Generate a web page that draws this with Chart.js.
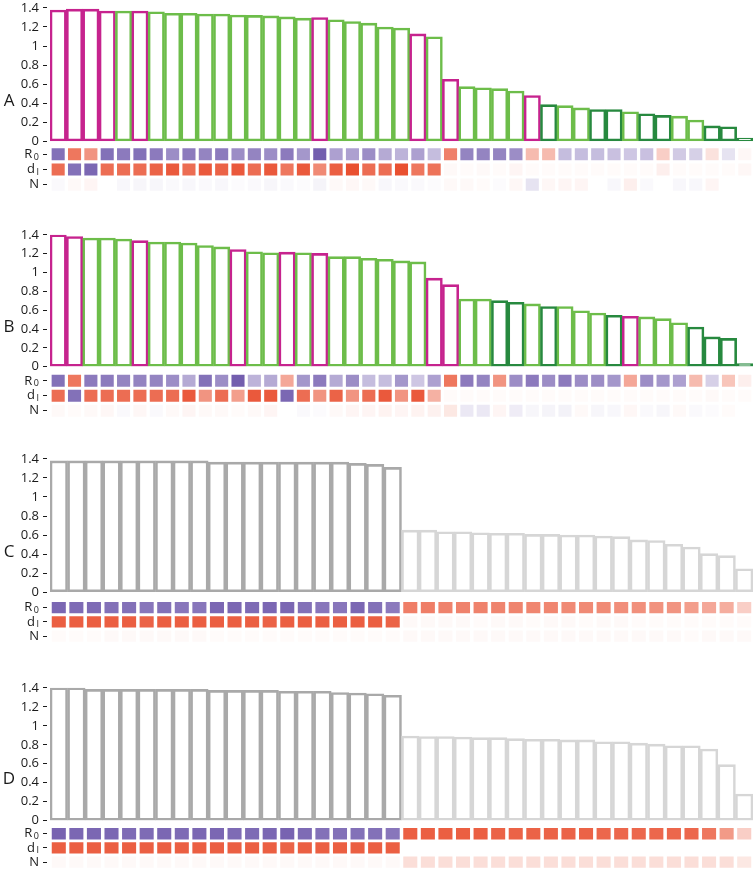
<!DOCTYPE html>
<html>
<head>
<meta charset="utf-8">
<title>Panels A-D</title>
<script src="https://cdn.jsdelivr.net/npm/chart.js@4.4.1/dist/chart.umd.min.js"></script>
<style>
    html, body { margin: 0; padding: 0; background: #fff; }
    #wrap { position: relative; width: 756px; height: 872px; overflow: hidden; }
    #wrap canvas { position: absolute; left: 0; }
</style>
</head>
<body>
<div id="wrap">
    <canvas id="panel-a"></canvas>
    <canvas id="panel-b"></canvas>
    <canvas id="panel-c"></canvas>
    <canvas id="panel-d"></canvas>
</div>
<script>

// Data

var yTicks = [0, 0.2, 0.4, 0.6, 0.8, 1, 1.2, 1.4];
var rowLabels = [['R', '0'], ['d', 'I'], ['N', '']];

// bar groups: m = magenta, g = light green, d = dark green, k = dark grey, l = light grey
var groupsA = 'mmmmgmggggggggggmgggggmgmggggmdggddgddggddd';
var groupsB = 'mmgggmgggggmggmgmggggggmmggddgdgggdmgggdddd';
var groupsC = 'kkkkkkkkkkkkkkkkkkkkllllllllllllllllllll';
var groupsD = 'kkkkkkkkkkkkkkkkkkkkllllllllllllllllllll';

var valuesA = [1.376, 1.386, 1.386, 1.366, 1.366, 1.366, 1.359, 1.342, 1.342, 1.335,
    1.335, 1.325, 1.320, 1.315, 1.305, 1.292, 1.298, 1.274, 1.257, 1.239,
    1.198, 1.188, 1.127, 1.096, 0.652, 0.574, 0.563, 0.553, 0.529, 0.481,
    0.386, 0.376, 0.352, 0.335, 0.335, 0.311, 0.291, 0.273, 0.266, 0.225,
    0.164, 0.154, 0.035];
var valuesB = [1.400, 1.382, 1.365, 1.365, 1.355, 1.338, 1.323, 1.323, 1.313, 1.286,
    1.272, 1.244, 1.220, 1.209, 1.216, 1.209, 1.203, 1.168, 1.168, 1.151,
    1.141, 1.123, 1.113, 0.940, 0.871, 0.719, 0.719, 0.701, 0.684, 0.667,
    0.639, 0.639, 0.594, 0.570, 0.546, 0.535, 0.529, 0.511, 0.467, 0.421,
    0.317, 0.301, 0.033];
var valuesC = [1.378, 1.378, 1.378, 1.378, 1.378, 1.378, 1.378, 1.378, 1.378, 1.365,
    1.365, 1.365, 1.365, 1.365, 1.365, 1.365, 1.365, 1.352, 1.341, 1.310,
    0.652, 0.652, 0.634, 0.634, 0.624, 0.618, 0.618, 0.607, 0.607, 0.600,
    0.600, 0.590, 0.583, 0.549, 0.542, 0.504, 0.474, 0.405, 0.384, 0.247];
var valuesD = [1.400, 1.400, 1.383, 1.383, 1.383, 1.383, 1.383, 1.383, 1.383, 1.373,
    1.373, 1.373, 1.373, 1.363, 1.363, 1.363, 1.350, 1.345, 1.337, 1.322,
    0.892, 0.887, 0.887, 0.882, 0.875, 0.875, 0.865, 0.858, 0.858, 0.851,
    0.851, 0.831, 0.831, 0.817, 0.807, 0.789, 0.789, 0.755, 0.591, 0.282];

// heat rows, -1 (orange) .. +1 (purple)
var r0A = [0.75, -0.7, -0.55, 0.75, 0.7, 0.75, 0.7, 0.6, 0.7, 0.65,
    0.7, 0.6, 0.65, 0.6, 0.7, 0.55, 0.85, 0.5, 0.5, 0.6,
    0.45, 0.4, 0.5, 0.35, -0.65, 0.65, 0.65, 0.65, 0.6, -0.35,
    -0.35, 0.35, 0.35, 0.35, 0.33, 0.3, 0.33, -0.25, 0.28, 0.25,
    -0.15, 0.15, -0.04];
var dIA = [-0.75, 0.75, 0.8, -0.75, -0.75, -0.75, -0.8, -0.85, -0.75, -0.85,
    -0.8, -0.85, -0.75, -0.85, -0.7, -0.85, -0.6, -0.82, -0.9, -0.75,
    -0.75, -0.9, -0.7, -0.72, -0.03, -0.02, -0.03, -0.02, -0.05, -0.02,
    -0.02, -0.02, -0.02, -0.02, -0.02, -0.02, -0.02, -0.08, -0.02, -0.02,
    -0.02, -0.02, -0.04];
var nA = [0.03, -0.03, -0.05, 0, 0.04, 0.05, 0.05, 0.03, 0.04, 0.03,
    0.04, 0.02, 0.03, 0.05, 0.03, 0.02, 0.06, -0.03, -0.04, -0.03,
    0.04, 0.03, 0.03, 0.02, -0.03, -0.03, -0.02, 0.02, -0.04, 0.15,
    -0.04, -0.05, -0.05, 0, 0.04, -0.08, 0.03, 0, 0.04, 0.04,
    -0.05, 0, 0];

var r0B = [0.75, -0.7, 0.7, 0.7, 0.65, 0.65, 0.65, 0.6, 0.45, 0.75,
    0.6, 0.85, 0.4, 0.45, -0.45, 0.55, 0.7, 0.45, 0.6, 0.35,
    0.35, 0.55, 0.3, 0.5, -0.7, 0.7, 0.65, -0.55, 0.6, 0.7,
    0.6, 0.7, 0.6, 0.6, 0.55, -0.45, 0.6, 0.55, 0.5, -0.35,
    0.25, -0.3, -0.08];
var dIB = [-0.75, 0.75, -0.75, -0.75, -0.75, -0.75, -0.75, -0.75, -0.85, -0.55,
    -0.75, -0.5, -0.85, -0.85, 0.8, -0.75, -0.55, -0.8, -0.55, -0.75,
    -0.85, -0.55, -0.85, -0.4, -0.02, -0.02, -0.02, -0.02, -0.02, -0.02,
    -0.02, -0.02, -0.02, -0.02, -0.02, -0.02, -0.02, -0.02, -0.02, -0.02,
    -0.03, -0.02, -0.02];
var nB = [-0.03, -0.02, -0.03, -0.04, 0.03, -0.04, 0.03, -0.03, -0.05, -0.03,
    -0.03, -0.02, -0.03, -0.05, 0, 0.03, 0.02, -0.03, -0.05, -0.05,
    -0.06, -0.05, -0.06, -0.07, -0.12, 0.12, 0.12, -0.05, 0.1, 0.05,
    0.06, 0.07, -0.03, 0.05, 0.04, -0.04, 0.03, 0.05, -0.03, 0.03,
    0.02, -0.02, 0];

var r0C = [0.8, 0.78, 0.78, 0.75, 0.75, 0.72, 0.75, 0.72, 0.72, 0.8,
    0.8, 0.78, 0.8, 0.8, 0.75, 0.72, 0.72, 0.8, 0.75, 0.7,
    -0.66, -0.66, -0.64, -0.64, -0.64, -0.63, -0.63, -0.62, -0.62, -0.6,
    -0.6, -0.6, -0.58, -0.57, -0.56, -0.55, -0.5, -0.45, -0.42, -0.25];
var dIC = [-0.82, -0.82, -0.82, -0.82, -0.82, -0.8, -0.82, -0.82, -0.82, -0.82,
    -0.82, -0.82, -0.8, -0.82, -0.82, -0.82, -0.82, -0.82, -0.82, -0.8,
    -0.03, -0.03, -0.03, -0.03, -0.02, -0.03, -0.03, -0.02, -0.03, -0.03,
    -0.02, -0.03, -0.03, -0.02, -0.02, -0.02, -0.02, -0.02, -0.02, -0.02];
var nC = [-0.02, -0.02, -0.02, -0.03, -0.03, -0.03, -0.03, -0.03, -0.03, -0.02,
    -0.02, -0.02, -0.02, -0.02, -0.02, -0.02, -0.02, -0.02, -0.02, -0.02,
    -0.03, -0.03, -0.03, -0.03, -0.03, -0.03, -0.03, -0.03, -0.03, -0.03,
    -0.03, -0.03, -0.03, -0.03, -0.03, -0.03, -0.02, -0.03, -0.03, -0.03];

var r0D = [0.82, 0.8, 0.8, 0.8, 0.78, 0.78, 0.8, 0.78, 0.8, 0.8,
    0.78, 0.78, 0.8, 0.82, 0.78, 0.75, 0.75, 0.75, 0.75, 0.72,
    -0.82, -0.82, -0.82, -0.82, -0.82, -0.8, -0.8, -0.8, -0.8, -0.8,
    -0.8, -0.78, -0.78, -0.78, -0.78, -0.78, -0.78, -0.7, -0.52, -0.25];
var dID = [-0.82, -0.82, -0.82, -0.82, -0.82, -0.82, -0.82, -0.82, -0.82, -0.82,
    -0.82, -0.82, -0.82, -0.8, -0.82, -0.82, -0.82, -0.82, -0.82, -0.82,
    0, 0, 0, 0, 0, 0, 0, 0, 0, 0,
    0, 0, 0, 0, 0, 0, 0, 0, 0, 0];
var nD = [-0.03, -0.03, -0.03, -0.03, -0.03, -0.03, -0.03, -0.03, -0.03, -0.03,
    -0.03, -0.03, -0.03, -0.03, -0.03, -0.03, -0.03, -0.03, -0.03, -0.03,
    -0.17, -0.17, -0.17, -0.17, -0.17, -0.17, -0.17, -0.17, -0.17, -0.17,
    -0.17, -0.17, -0.17, -0.17, -0.17, -0.17, -0.17, -0.17, -0.17, -0.12];


// Variables

var groupColours = {
    m: '#c6238e',
    g: '#6dbd4a',
    d: '#27893f',
    k: '#a9a9a9',
    l: '#d6d6d6'
};

var FONT = '"Open Sans", "DejaVu Sans", sans-serif';

// y14 = pixel of 1.4, y0 = pixel of 0, rowTop / rowPitch = heat rows
var panels = [
    { id: 'panel-a', letter: 'A', values: valuesA, groups: groupsA, heat: [r0A, dIA, nA], y14: 6, y0: 142.7, rowTop: 148, rowPitch: 15.5 },
    { id: 'panel-b', letter: 'B', values: valuesB, groups: groupsB, heat: [r0B, dIB, nB], y14: 233.3, y0: 368.3, rowTop: 375, rowPitch: 15.3 },
    { id: 'panel-c', letter: 'C', values: valuesC, groups: groupsC, heat: [r0C, dIC, nC], y14: 457.3, y0: 593.3, rowTop: 601.7, rowPitch: 14.5 },
    { id: 'panel-d', letter: 'D', values: valuesD, groups: groupsD, heat: [r0D, dID, nD], y14: 685.7, y0: 821.7, rowTop: 827.7, rowPitch: 14.5 }
];


// Methods

function heatColour(v) {
    var end = v >= 0 ? [90, 65, 160] : [230, 60, 25];
    var a = Math.min(Math.abs(v), 1);
    return 'rgb(' + end.map(function (c) {
        return Math.round(255 + (c - 255) * a);
    }).join(',') + ')';
}

var panelText = {
    id: 'panelText',
    afterDraw: function (chart) {
        var ctx = chart.ctx;
        var area = chart.chartArea;
        var rows = chart.scales.rows;
        var letter = chart.options.plugins.panelText.letter;

        ctx.save();
        ctx.fillStyle = '#1a1a1a';
        ctx.textBaseline = 'middle';

        ctx.font = '17px ' + FONT;
        ctx.textAlign = 'center';
        ctx.fillText(letter, 9, (area.top + area.bottom) / 2 + 1);

        ctx.textAlign = 'right';
        rowLabels.forEach(function (lab, r) {
            var y = rows.getPixelForValue(r + 0.5);
            var x = 39;
            if (lab[1]) {
                ctx.font = '9px ' + FONT;
                ctx.fillText(lab[1], x, y + 3);
                x -= ctx.measureText(lab[1]).width + 1.5;
            }
            ctx.font = '13px ' + FONT;
            ctx.fillText(lab[0], x, y);
        });
        ctx.restore();
    }
};

function tickGrid() {
    return {
        drawOnChartArea: false,
        drawTicks: true,
        tickLength: 7,
        tickBorderDash: [4, 20],
        tickColor: '#1a1a1a',
        tickWidth: 1
    };
}

function init(p) {
    var canvas = document.getElementById(p.id);
    var rowsBottom = p.rowTop + 3 * p.rowPitch;
    var top = Math.round(p.y14 - 10);
    var height = Math.ceil(rowsBottom - top + 9);
    var labels = p.values.map(function (v, i) { return String(i + 1); });

    canvas.width = 756;
    canvas.height = height;
    canvas.style.top = top + 'px';

    var datasets = [{
        data: p.values,
        yAxisID: 'y',
        backgroundColor: '#ffffff',
        borderColor: p.groups.split('').map(function (g) { return groupColours[g]; }),
        borderWidth: 2.6,
        borderSkipped: false,
        barPercentage: 1,
        categoryPercentage: 1,
        grouped: false
    }];

    p.heat.forEach(function (row, r) {
        datasets.push({
            data: row.map(function () { return [r + 0.1, r + 0.9]; }),
            yAxisID: 'rows',
            backgroundColor: row.map(heatColour),
            borderWidth: 0,
            barPercentage: 0.8,
            categoryPercentage: 1,
            grouped: false
        });
    });

    var chart = new Chart(canvas, {
        type: 'bar',
        data: { labels: labels, datasets: datasets },
        options: {
            responsive: false,
            animation: false,
            events: [],
            layout: {
                padding: { top: p.y14 - top, bottom: top + height - rowsBottom, left: 0, right: 3 }
            },
            plugins: {
                legend: { display: false },
                tooltip: { enabled: false },
                panelText: { letter: p.letter }
            },
            scales: {
                x: { type: 'category', display: false, offset: true },
                y: {
                    type: 'linear',
                    position: 'left',
                    stack: 'panel',
                    stackWeight: p.y0 - p.y14,
                    weight: 2,
                    min: 0,
                    max: 1.4,
                    afterBuildTicks: function (s) {
                        s.ticks = yTicks.map(function (v) { return { value: v }; });
                    },
                    ticks: {
                        autoSkip: false,
                        padding: 4,
                        color: '#1a1a1a',
                        font: { family: FONT, size: 13 },
                        callback: function (v) { return String(v); }
                    },
                    grid: tickGrid(),
                    border: { display: false },
                    afterFit: function (s) { s.width = 50; }
                },
                rows: {
                    type: 'linear',
                    position: 'left',
                    stack: 'panel',
                    stackWeight: rowsBottom - p.y0,
                    weight: 1,
                    reverse: true,
                    min: -(p.rowTop - p.y0) / p.rowPitch,
                    max: 3,
                    ticks: { display: false },
                    afterBuildTicks: function (s) {
                        s.ticks = [0.5, 1.5, 2.5].map(function (v) { return { value: v }; });
                    },
                    grid: tickGrid(),
                    border: { display: false },
                    afterFit: function (s) { s.width = 50; }
                }
            }
        },
        plugins: [panelText]
    });

    canvas.chart = chart;
}


// Events

panels.forEach(init);

</script>
</body>
</html>
